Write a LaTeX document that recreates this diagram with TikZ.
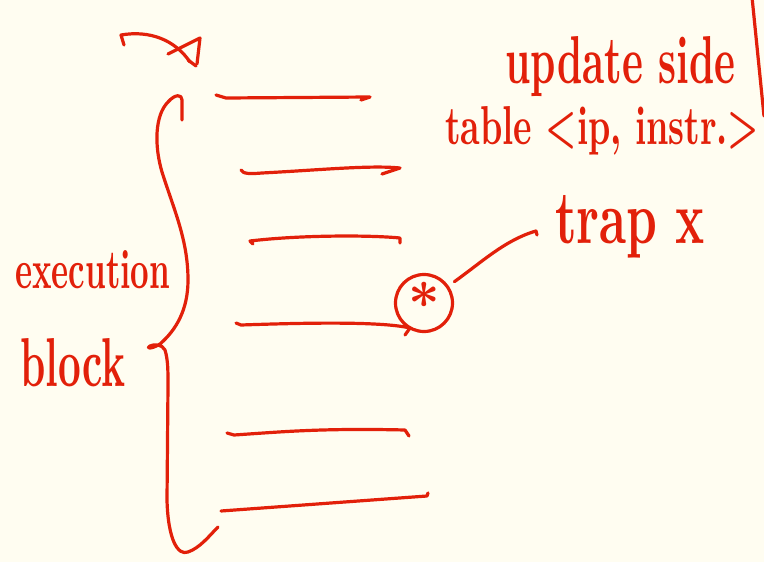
\documentclass[tikz,border=0pt]{standalone}
\usetikzlibrary{arrows.meta}
\definecolor{ink}{RGB}{226,32,10}
\definecolor{paper}{RGB}{255,253,241}
\newcommand\hwtext[3]{\resizebox{#1}{#2}{#3}}
\begin{document}
\begin{tikzpicture}[x=1pt,y=-1pt,
  inkline/.style={draw=ink, line width=3.2pt, line cap=round, line join=round},
  hw/.style={text=ink, inner sep=0pt, anchor=base west, font=\bfseries}]
\fill[paper] (0,0) rectangle (764,562);
\useasboundingbox (0,0) rectangle (764,562);

% right edge stroke
\draw[inkline] (752,-3) -- (764,116);

% top-left arrow
\draw[inkline] (124,45) -- (121,35) .. controls (150,30) and (175,40) .. (190,62);
\draw[inkline] (168,54) -- (200,38) -- (197,64);
\draw[inkline] (188,60) -- (196,66);

% horizontal strokes
\draw[inkline] (216,95) -- (226,98) -- (370,97) -- (361,100);
\draw[inkline] (241,170) .. controls (243,174) and (250,174) .. (262,173)
   .. controls (320,170) and (370,165) .. (400,168) -- (382,174);
\draw[inkline] (253,244) -- (250,241) .. controls (300,235) and (370,235) .. (400,238) -- (400,243);
\draw[inkline] (236,323) -- (241,325) .. controls (300,323) and (380,321) .. (410,328) -- (405,335);
\draw[inkline] (227,433) -- (234,435) .. controls (280,432) and (320,428) .. (405,430) -- (409,436);
\draw[inkline] (221,511) -- (427,496) -- (428,493);

% brace
\draw[inkline] (182,120) -- (182,100) .. controls (182,94) and (175,94) .. (168,102)
  .. controls (155,115) and (154,145) .. (162,172)
  .. controls (174,210) and (188,240) .. (188,280)
  .. controls (188,310) and (176,330) .. (160,344)
  .. controls (150,350) and (146,348) .. (150,346)
  .. controls (154,344) and (162,344) .. (165,350)
  .. controls (168,360) and (168,370) .. (168,385)
  -- (167,500)
  .. controls (168,540) and (178,556) .. (188,552)
  .. controls (200,548) and (210,535) .. (218,527);

% circled star
\node[draw=ink, line width=3.2pt, circle, minimum size=57pt, inner sep=0pt, text=ink] (star) at (424,303)
  {\raisebox{-22pt}{\scalebox{5.5}{\bfseries *}}};

% texts
\node[hw] (upd) at (505,84) {\hwtext{230pt}{47pt}{update side}};
\node[hw] (tbl) at (445,144) {\hwtext{314pt}{38pt}{table <ip, instr.>}};
\node[hw] (trap) at (555,243) {\hwtext{150pt}{48pt}{trap x}};
\node[hw] (exe) at (15,288) {\hwtext{155pt}{38pt}{execution}};
\node[hw] (blk) at (20,386) {\hwtext{105pt}{48pt}{block}};

% connector circle -> trap
\coordinate (trapend) at (536,231);
\draw[inkline, shorten <=7pt] (star.35) .. controls (482,262) and (505,240) .. (trapend) -- (537,235);
\end{tikzpicture}
\end{document}
